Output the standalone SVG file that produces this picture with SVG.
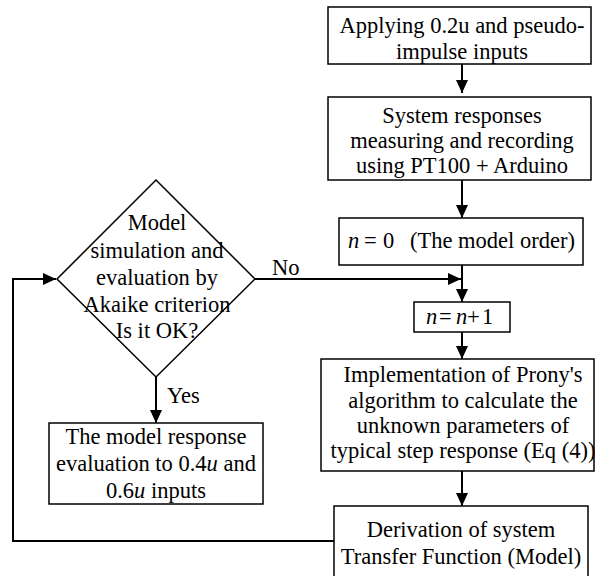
<svg xmlns="http://www.w3.org/2000/svg" width="596" height="576" viewBox="0 0 596 576">
<defs>
<style>
.box{fill:#fff;stroke:#000;stroke-width:1.5}
.t{font-family:"Liberation Serif","Times New Roman",serif;font-size:22.5px;fill:#000;text-anchor:middle}
.ts{font-family:"Liberation Serif","Times New Roman",serif;font-size:22.5px;fill:#000}
.i{font-style:italic}
.c{fill:none;stroke:#000;stroke-width:2}
</style>
<marker id="ah" viewBox="0 0 13 12" refX="13" refY="6" markerWidth="13" markerHeight="12" markerUnits="userSpaceOnUse" orient="auto">
<path d="M0,0 L13,6 L0,12 z" fill="#000"/>
</marker>
</defs>
<rect width="596" height="576" fill="#fff"/>
<g id="connectors">
<line class="c" x1="462" y1="64" x2="462" y2="93" marker-end="url(#ah)"/>
<line class="c" x1="462" y1="180" x2="462" y2="218" marker-end="url(#ah)"/>
<line class="c" x1="462" y1="265" x2="462" y2="302" marker-end="url(#ah)"/>
<line class="c" x1="462" y1="332" x2="462" y2="359" marker-end="url(#ah)"/>
<line class="c" x1="462" y1="471" x2="462" y2="506" marker-end="url(#ah)"/>
<line class="c" x1="255" y1="279" x2="461" y2="279" marker-end="url(#ah)"/>
<line class="c" x1="156" y1="377" x2="156" y2="423" marker-end="url(#ah)"/>
<polyline class="c" points="334,541 13,541 13,279 56,279" marker-end="url(#ah)"/>
<text class="ts" x="272" y="275">No</text>
<text class="ts" x="167" y="403">Yes</text>
</g>
<g id="n1">
<rect class="box" x="328" y="7" width="263" height="57"/>
<text class="t" x="462" y="33">Applying 0.2u and pseudo-</text>
<text class="t" x="462" y="59">impulse inputs</text>
</g>
<g id="n2">
<rect class="box" x="328" y="97" width="263" height="83"/>
<text class="t" x="462" y="123">System responses</text>
<text class="t" x="462" y="148">measuring and recording</text>
<text class="t" x="462" y="173">using PT100 + Arduino</text>
</g>
<g id="n3">
<rect class="box" x="339" y="218" width="244" height="47"/>
<text class="ts" y="248"><tspan class="i" x="348">n</tspan><tspan x="364">=</tspan><tspan x="383">0</tspan><tspan x="410">(The model order)</tspan></text>
</g>
<g id="n4">
<rect class="box" x="414" y="302" width="96" height="30"/>
<text class="ts" y="324"><tspan class="i" x="426">n</tspan><tspan x="439">=</tspan><tspan class="i" x="456">n</tspan><tspan x="467">+</tspan><tspan x="482">1</tspan></text>
</g>
<g id="n5">
<rect class="box" x="321" y="359" width="273" height="112"/>
<text class="t" x="463" y="382">Implementation of Prony's</text>
<text class="t" x="463" y="407.5">algorithm to calculate the</text>
<text class="t" x="463" y="433">unknown parameters of</text>
<text class="t" x="463" y="458">typical step response (Eq (4))</text>
</g>
<g id="n6">
<rect class="box" x="334" y="506" width="254" height="80"/>
<text class="t" x="461" y="537">Derivation of system</text>
<text class="t" x="461" y="564">Transfer Function (Model)</text>
</g>
<g id="n7">
<polygon class="box" points="156,180 255,279 156,377 57,279"/>
<text class="t" x="157" y="230">Model</text>
<text class="t" x="157" y="258">simulation and</text>
<text class="t" x="157" y="285">evaluation by</text>
<text class="t" x="157" y="312">Akaike criterion</text>
<text class="t" x="157" y="338">Is it OK?</text>
</g>
<g id="n8">
<rect class="box" x="49" y="423" width="214" height="81"/>
<text class="t" x="156" y="444">The model response</text>
<text class="t" x="156" y="471">evaluation to 0.4<tspan class="i">u</tspan> and</text>
<text class="t" x="156" y="498">0.6<tspan class="i">u</tspan> inputs</text>
</g>
</svg>
